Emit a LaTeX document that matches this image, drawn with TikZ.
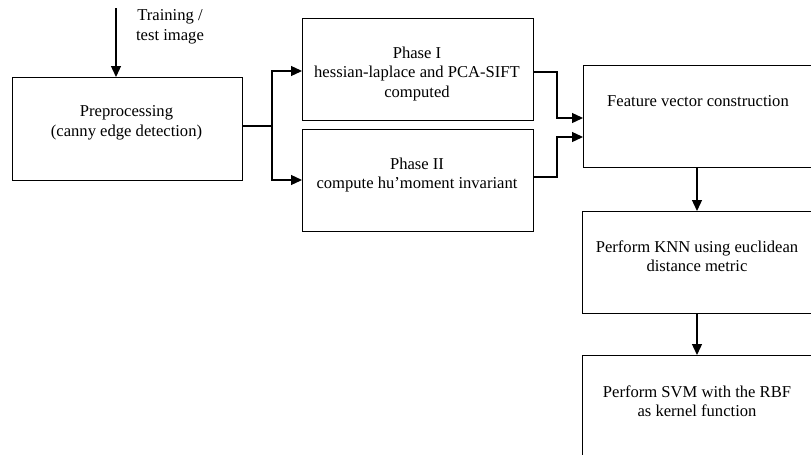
\documentclass[tikz,border=0pt]{standalone}
\usepackage{fontspec}
\setmainfont{Liberation Serif}
\usetikzlibrary{arrows.meta}
\begin{document}
\begin{tikzpicture}[x=1pt,y=-1pt,
  box/.style={draw,line width=1.3pt,rectangle,anchor=north west,inner sep=0pt},
  txt/.style={align=center,font=\fontsize{16.6}{19.5}\selectfont,inner sep=0pt},
  conn/.style={line width=1.3pt,-{Triangle[length=11pt,width=10pt]}},
  seg/.style={line width=1.3pt}]
\useasboundingbox (0,0) rectangle (811,455);
\clip (0,0) rectangle (811,455);
% boxes
\node[box,minimum width=230pt,minimum height=103pt] (pre) at (12,77) {};
\node[box,minimum width=231pt,minimum height=102pt] (p1) at (302,18) {};
\node[box,minimum width=231pt,minimum height=102pt] (p2) at (302,129) {};
\node[box,minimum width=231pt,minimum height=102pt] (fv) at (583,65) {};
\node[box,minimum width=231pt,minimum height=102pt] (knn) at (582,211) {};
\node[box,minimum width=231pt,minimum height=110pt] (svm) at (582,355) {};
% texts
\node[txt] (tpre) at (126.5,123) {Preprocessing\\(canny edge detection)};
\node[txt] (tp1) at (417,74) {Phase I\\hessian-laplace and PCA-SIFT\\computed};
\node[txt] (tp2) at (417,175) {Phase II\\compute hu’moment invariant};
\node[txt] (tfv) at (698,101) {Feature vector construction};
\node[txt] (tknn) at (697,256) {Perform KNN using euclidean\\distance metric};
\node[txt] (tsvm) at (697,401) {Perform SVM with the RBF\\as kernel function};
\node[txt] (tin) at (170,27) {Training /\\test image};
% connectors
\coordinate (src) at (116,8);
\draw[conn] (src) -- (src |- pre.north);
\coordinate (j) at (272,126);
\draw[seg] (pre.east |- j) -- (j);
\draw[conn] (j) -- (272,71) -- (p1.west |- 0,71);
\draw[conn] (j) -- (272,180) -- (p2.west |- 0,180);
\draw[conn] (p1.east |- 0,72) -- (557,72) -- (557,118) -- (fv.west |- 0,118);
\draw[conn] (p2.east |- 0,177) -- (557,177) -- (557,137) -- (fv.west |- 0,137);
\draw[conn] (697,167) -- (697,211);
\draw[conn] (697,313) -- (697,355);
\end{tikzpicture}
\end{document}
